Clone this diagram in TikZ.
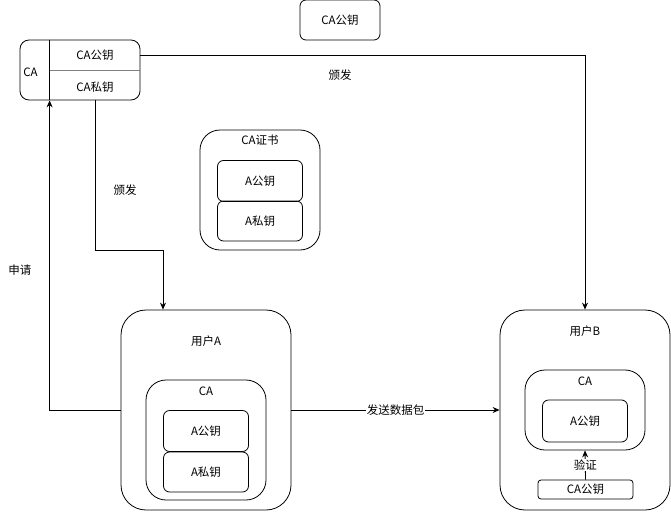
\documentclass[tikz,border=0pt]{standalone}
\usepackage{fontspec}
\setmainfont{Noto Sans CJK SC}
\usetikzlibrary{
    arrows.meta,
    positioning
}

\begin{document}
\begin{tikzpicture}[
        x=1pt, y=-1pt,
        >={Stealth[length=7pt,width=6pt]},
        line width=0.8pt,
        every node/.style={
            font=\fontsize{11.5}{13}\selectfont,
            inner sep=1pt
        },
        key/.style={
            draw,
            rounded corners=6pt,
            minimum width=85pt,
            minimum height=41pt
        },
        holder/.style={
            draw,
            rounded corners=20pt,
            minimum width=120pt
        },
        user/.style={
            draw,
            rounded corners=25pt,
            minimum width=170pt,
            minimum height=200pt
        }
    ]
    \useasboundingbox (0,0) rectangle (671,511);

    % CA
    \node[key, minimum width=80pt, minimum height=40pt] (topkey) at (340,20) {CA公钥};
    \node[draw, rounded corners=9pt, minimum width=120pt, minimum height=60pt] (ca) at (80,70) {};
    \draw ([xshift=30pt]ca.north west) -- ([xshift=30pt]ca.south west);
    \draw[gray] ([xshift=30pt]ca.west) -- (ca.east);
    \node[anchor=west] (caname) at (22,72) {CA};
    \node (capub) at (95,55) {CA公钥};
    \node (capriv) at (95,87) {CA私钥};

    % certificate
    \node[holder, minimum height=120pt] (cert) at (260,190) {};
    \node (certname) at (260,140) {CA证书};
    \node[key] (certpub) at (260,181) {A公钥};
    \node[key, minimum height=40pt] (certpriv) at (260,221) {A私钥};

    % user A
    \node[user] (usera) at (206,410) {};
    \node (useraname) at (206,341) {用户A};
    \node[holder, minimum height=120pt] (caa) at (206,440) {};
    \node (caaname) at (206,391) {CA};
    \node[key] (apub) at (206,431) {A公钥};
    \node[key, minimum height=40pt] (apriv) at (206,472) {A私钥};

    % user B
    \node[user] (userb) at (585,410) {};
    \node (userbname) at (585,331) {用户B};
    \node[holder, minimum height=80pt] (cab) at (585,410) {};
    \node (cabname) at (585,381) {CA};
    \node[key, minimum height=42pt] (bpub) at (585,421) {A公钥};
    \node[key, rounded corners=3pt, minimum width=95pt, minimum height=19pt] (bkey) at (585.5,489.5) {CA公钥};

    % arrows
    \draw[->] ([yshift=15pt]ca.east) -| (userb.north);
    \node (issueb) at (340,75) {颁发};
    \draw[->] (capriv |- ca.south) -- ++(0,150) -| ([xshift=-43pt]usera.north);
    \node (issuea) at (125,190) {颁发};
    \draw[->] (usera.west) -| ([xshift=30pt]ca.south west);
    \node (apply) at (20,270) {申请};
    \draw[->] (usera.east) -- node[fill=white] (send) {发送数据包} (userb.west);
    \draw[->] (bkey.north) -- node[fill=white] (check) {验证} (cab.south);

\end{tikzpicture}
\end{document}
